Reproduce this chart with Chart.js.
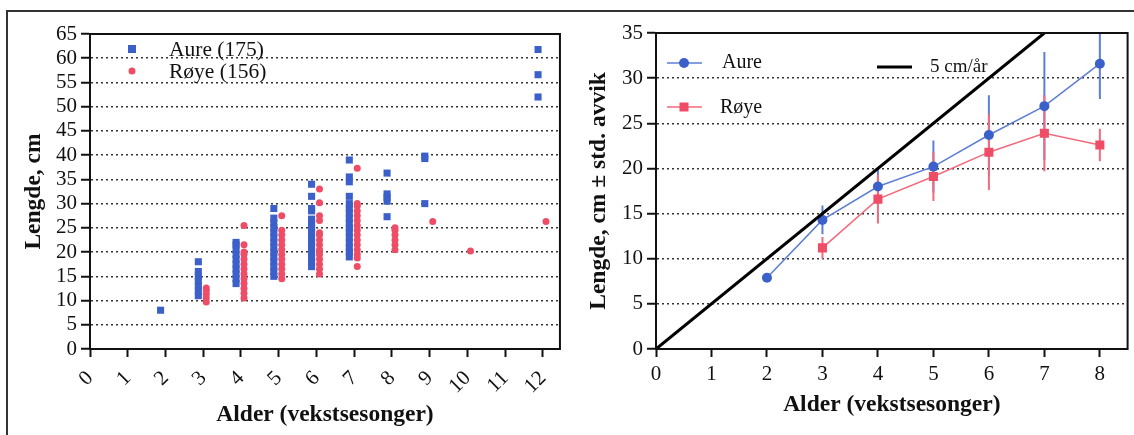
<!DOCTYPE html>
<html>
<head>
<meta charset="utf-8">
<script src="https://cdn.jsdelivr.net/npm/chart.js@4.4.1/dist/chart.umd.min.js"></script>
<style>
  html, body { margin: 0; padding: 0; background: #fff; }
  #page { position: relative; width: 1134px; height: 435px; overflow: hidden; }
  #frame { position: absolute; left: 6px; top: 10px; width: 1200px; height: 500px;
           border-top: 2px solid #333; border-left: 2px solid #333; }
  canvas { position: absolute; top: 0; }
  #c1 { left: 0; }
  #c2 { left: 570px; }
</style>
</head>
<body>
<div id="page">
  <div id="frame"></div>
  <canvas id="c1" width="570" height="435"></canvas>
  <canvas id="c2" width="564" height="435"></canvas>
</div>
<script>
// venstre figur: enkeltfisk
const alderAure = [2, 3, 4, 5, 6, 7, 8, 9, 12];
const lengdeAure = [
  [8],
  [11, 12, 13, 14, 15, 16, 18],
  [13.5, 14.5, 15.5, 16.5, 17.5, 18.5, 19.5, 20.5, 21.5, 22],
  [15, 16, 17, 18, 19, 20, 21, 22, 23, 24, 25, 26, 27, 29],
  [17, 18, 19, 20, 21, 22, 23, 24, 25, 26, 26.8, 28.5, 29, 31.5, 34],
  [19, 20, 21, 22, 23, 24, 25, 26, 27, 28, 29, 30, 31.5, 34.5, 35.5, 39],
  [27.3, 30.5, 31.3, 32, 36.3],
  [30, 39.3, 39.8],
  [52, 56.6, 61.8]
];
const alderRoye = [3, 4, 5, 6, 7, 8, 9, 10, 12];
const lengdeRoye = [
  [9.7, 10.5, 11.3, 12, 12.6],
  [10.5, 11.5, 12.5, 13.5, 14.5, 15.5, 16.5, 17.5, 18.5, 19.5, 20, 21.5, 25.5],
  [14.5, 15.5, 16.5, 17.5, 18.5, 19.5, 20.5, 21.5, 22.5, 23.5, 24.5, 27.5],
  [15.5, 16.5, 17.5, 18.5, 19.5, 20.5, 21.5, 22.5, 23.5, 24, 26.5, 27.5, 30.2, 33],
  [17, 18.8, 19.5, 20.5, 21.5, 22.5, 23.5, 24.5, 25.5, 26.5, 27.5, 28.5, 29.5, 30, 37.3],
  [20.5, 21.5, 22.5, 23.5, 24.5, 25],
  [26.3],
  [20.2],
  [26.3]
];

// høyre figur: snitt +- std. avvik
const snittAlderAure = [2, 3, 4, 5, 6, 7, 8];
const snittAure = [7.9, 14.3, 18.0, 20.2, 23.7, 26.9, 31.6];
const sdAure = [0, 1.6, 2.1, 2.9, 4.4, 6.0, 3.9];
const snittAlderRoye = [3, 4, 5, 6, 7, 8];
const snittRoye = [11.2, 16.6, 19.1, 21.8, 23.9, 22.6];
const sdRoye = [1.2, 2.7, 2.7, 4.2, 4.2, 1.8];
const linjeAlder = [0, 7];
const linjeLengde = [0, 35];

const serif = '"Liberation Serif", "DejaVu Serif", serif';
const blaa = '#3b60c9';
const roed = '#ef4d66';
const blaaLinje = '#5c7ed6';
const roedLinje = '#f26a7c';
const svart = '#111';

Chart.defaults.font.family = serif;

const tickFont = { family: serif, size: 21 };
const titleFont = { family: serif, size: 23.5, weight: 'bold' };

function punkter(alder, lengder, skift) {
  const ut = [];
  alder.forEach((a, i) => lengder[i].forEach(l => ut.push({ x: a + skift, y: l })));
  return ut;
}

function gridFarge(maks) {
  return ctx => (ctx.tick && (ctx.tick.value === 0 || ctx.tick.value === maks)) ? 'rgba(0,0,0,0)' : '#333';
}

const ramme = {
  id: 'ramme',
  afterDraw(chart) {
    const { ctx, chartArea: a } = chart;
    ctx.save();
    ctx.strokeStyle = svart;
    ctx.lineWidth = 2;
    ctx.strokeRect(a.left, a.top, a.right - a.left, a.bottom - a.top);
    ctx.restore();
  }
};

const venstreLegende = {
  id: 'venstreLegende',
  afterDraw(chart) {
    const ctx = chart.ctx;
    ctx.save();
    ctx.fillStyle = blaa;
    ctx.fillRect(128, 45, 8, 8);
    ctx.fillStyle = roed;
    ctx.beginPath();
    ctx.arc(132, 71, 3.5, 0, Math.PI * 2);
    ctx.fill();
    ctx.fillStyle = svart;
    ctx.font = '21.5px ' + serif;
    ctx.textBaseline = 'middle';
    ctx.fillText('Aure (175)', 169, 50);
    ctx.fillText('Røye (156)', 169, 72);
    ctx.restore();
  }
};

new Chart(document.getElementById('c1'), {
  type: 'scatter',
  data: {
    datasets: [
      { label: 'Aure (175)', data: punkter(alderAure, lengdeAure, -0.13), pointStyle: 'rect',
        pointRadius: 5, backgroundColor: blaa, borderWidth: 0 },
      { label: 'Røye (156)', data: punkter(alderRoye, lengdeRoye, 0.08), pointStyle: 'circle',
        pointRadius: 3.5, backgroundColor: roed, borderWidth: 0 }
    ]
  },
  options: {
    responsive: false,
    animation: false,
    layout: { padding: { left: 0, right: 6, top: 34, bottom: 0 } },
    plugins: { legend: { display: false }, tooltip: { enabled: false } },
    scales: {
      x: {
        type: 'linear', min: 0, max: 12.45,
        afterFit: s => { s.height = 86; },
        ticks: { stepSize: 1, includeBounds: false, autoSkip: false, minRotation: 45, maxRotation: 45,
                 padding: 9, color: svart, font: tickFont },
        grid: { drawOnChartArea: false, tickLength: 8, tickWidth: 2, tickColor: svart },
        border: { color: svart, width: 2 },
        title: { display: true, text: 'Alder (vekstsesonger)', color: svart, font: titleFont,
                 padding: { top: 0, bottom: 6 } }
      },
      y: {
        min: 0, max: 65,
        afterFit: s => { s.width = 90; },
        ticks: { stepSize: 5, autoSkip: false, padding: 4, color: svart, font: tickFont },
        grid: { color: gridFarge(65), lineWidth: 1.5, tickLength: 9, tickWidth: 2, tickColor: svart },
        border: { color: svart, width: 2, dash: [2, 3] },
        title: { display: true, text: 'Lengde, cm', color: svart, font: titleFont,
                 padding: { top: 20, bottom: 0 } }
      }
    }
  },
  plugins: [ramme, venstreLegende]
});

const feilstolper = {
  id: 'feilstolper',
  beforeDatasetsDraw(chart) {
    const { ctx, chartArea: a, scales: { x, y } } = chart;
    ctx.save();
    ctx.beginPath();
    ctx.rect(a.left, a.top, a.right - a.left, a.bottom - a.top);
    ctx.clip();
    ctx.lineWidth = 2;
    const tegn = (alder, snitt, sd, farge) => {
      ctx.strokeStyle = farge;
      alder.forEach((al, i) => {
        if (!sd[i]) return;
        const px = x.getPixelForValue(al);
        ctx.beginPath();
        ctx.moveTo(px, y.getPixelForValue(snitt[i] - sd[i]));
        ctx.lineTo(px, y.getPixelForValue(snitt[i] + sd[i]));
        ctx.stroke();
      });
    };
    tegn(snittAlderAure, snittAure, sdAure, blaaLinje);
    tegn(snittAlderRoye, snittRoye, sdRoye, roedLinje);
    ctx.restore();
  }
};

const hoyreLegende = {
  id: 'hoyreLegende',
  afterDraw(chart) {
    const ctx = chart.ctx;
    ctx.save();
    ctx.lineWidth = 1.5;
    ctx.strokeStyle = blaaLinje;
    ctx.beginPath(); ctx.moveTo(97, 63); ctx.lineTo(132, 63); ctx.stroke();
    ctx.fillStyle = blaa;
    ctx.beginPath(); ctx.arc(114, 63, 5, 0, Math.PI * 2); ctx.fill();
    ctx.strokeStyle = roedLinje;
    ctx.beginPath(); ctx.moveTo(97, 107); ctx.lineTo(132, 107); ctx.stroke();
    ctx.fillStyle = roed;
    ctx.fillRect(109.5, 102.5, 9, 9);
    ctx.strokeStyle = '#000';
    ctx.lineWidth = 3;
    ctx.beginPath(); ctx.moveTo(307, 67); ctx.lineTo(342, 67); ctx.stroke();
    ctx.fillStyle = svart;
    ctx.textBaseline = 'middle';
    ctx.font = '20px ' + serif;
    ctx.fillText('Aure', 152, 63);
    ctx.fillText('Røye', 150, 108);
    ctx.font = '19px ' + serif;
    ctx.fillText('5 cm/år', 360, 67);
    ctx.restore();
  }
};

new Chart(document.getElementById('c2'), {
  type: 'line',
  data: {
    datasets: [
      { label: '5 cm/år', data: linjeAlder.map((a, i) => ({ x: a, y: linjeLengde[i] })),
        borderColor: '#000', borderWidth: 3, pointRadius: 0, order: 0 },
      { label: 'Aure', data: snittAlderAure.map((a, i) => ({ x: a, y: snittAure[i] })),
        borderColor: blaaLinje, borderWidth: 1.5, pointRadius: 5, pointBackgroundColor: blaa,
        pointBorderWidth: 0, order: 1 },
      { label: 'Røye', data: snittAlderRoye.map((a, i) => ({ x: a, y: snittRoye[i] })),
        borderColor: roedLinje, borderWidth: 1.5, pointStyle: 'rect', pointRadius: 6.4,
        pointBackgroundColor: roed, pointBorderWidth: 0, order: 2 }
    ]
  },
  options: {
    responsive: false,
    animation: false,
    layout: { padding: { left: 0, right: 6, top: 33, bottom: 0 } },
    plugins: { legend: { display: false }, tooltip: { enabled: false } },
    scales: {
      x: {
        type: 'linear', min: 0, max: 8.5,
        afterFit: s => { s.height = 86; },
        ticks: { stepSize: 1, includeBounds: false, autoSkip: false, maxRotation: 0,
                 padding: 5, color: svart, font: tickFont },
        grid: { drawOnChartArea: false, tickLength: 8, tickWidth: 2, tickColor: svart },
        border: { color: svart, width: 2 },
        title: { display: true, text: 'Alder (vekstsesonger)', color: svart, font: titleFont,
                 padding: { top: 0, bottom: 16 } }
      },
      y: {
        min: 0, max: 35,
        afterFit: s => { s.width = 86; },
        ticks: { stepSize: 5, autoSkip: false, padding: 4, color: svart, font: tickFont },
        grid: { color: gridFarge(35), lineWidth: 1.5, tickLength: 9, tickWidth: 2, tickColor: svart },
        border: { color: svart, width: 2, dash: [2, 3] },
        title: { display: true, text: 'Lengde, cm ± std. avvik', color: svart, font: titleFont,
                 padding: { top: 15, bottom: 0 } }
      }
    }
  },
  plugins: [ramme, feilstolper, hoyreLegende]
});
</script>
</body>
</html>
